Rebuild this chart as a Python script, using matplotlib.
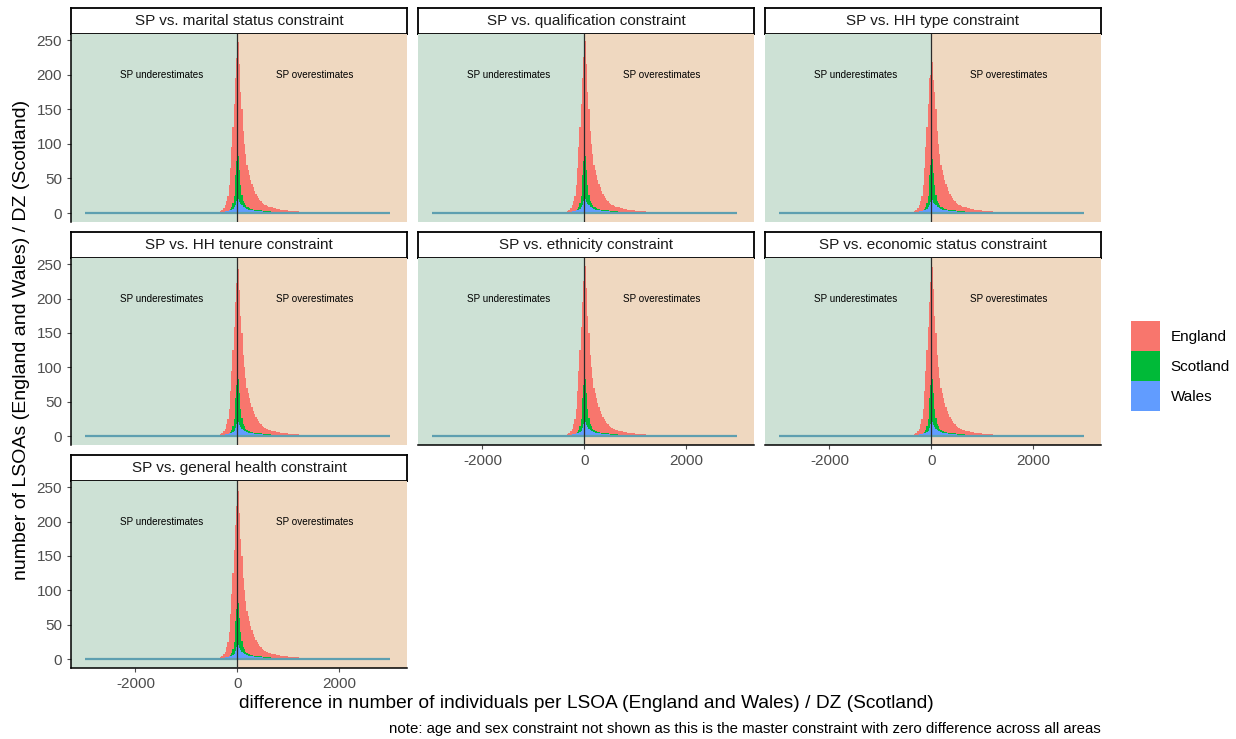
import numpy as np
import matplotlib
matplotlib.use("Agg")
import matplotlib.pyplot as plt
from matplotlib.patches import Patch

plt.rcParams['font.family'] = ['Liberation Sans', 'DejaVu Sans']
plt.rcParams['axes.unicode_minus'] = False

# facet titles, and the three central bins (-25..0, 0..25, 25..50) per panel
panels = ["SP vs. marital status constraint", "SP vs. qualification constraint",
          "SP vs. HH type constraint", "SP vs. HH tenure constraint",
          "SP vs. ethnicity constraint", "SP vs. economic status constraint",
          "SP vs. general health constraint"]
england_center = [[225, 247, 215], [226, 249, 216], [200, 218, 192],
                  [222, 243, 212], [226, 248, 216], [224, 246, 214],
                  [222, 244, 212]]
scotland_center = [[75, 83, 62], [75, 83, 62], [70, 78, 58], [75, 83, 62],
                   [75, 83, 62], [75, 83, 62], [73, 81, 60]]
wales_center = [[17, 20, 16], [17, 20, 16], [16, 19, 15], [17, 20, 16],
                [17, 20, 16], [17, 20, 16], [17, 20, 16]]

countries = ["England", "Scotland", "Wales"]
colors = {"England": "#F8766D", "Scotland": "#00BA38", "Wales": "#619CFF"}

# core bins (width 25) from -400 to 1000, outside the three central bins
core_edges = np.arange(-400, 1001, 25)
england_neg = [2, 2, 3, 4, 5, 7, 11, 17, 25, 40, 65, 95, 125, 158, 195]
england_pos = [175, 150, 118, 100, 85, 70, 62, 55, 48, 42, 37, 32, 28, 25,
               22, 19, 17, 15, 13, 12, 11, 10, 9, 9, 8, 8, 7, 7, 6, 6, 6, 5,
               5, 5, 5, 4, 4, 4]
scotland_neg = [0, 0, 1, 1, 1, 1, 2, 2, 3, 4, 6, 9, 14, 25, 55]
scotland_pos = [40, 26, 18, 14, 11, 9, 8, 7, 6, 6, 5, 5, 5, 4, 4, 4, 4, 3,
                3, 3, 3, 3, 3, 3, 2, 2, 2, 2, 2, 2, 2, 2, 2, 2, 2, 2, 2, 2]
wales_neg = [1, 2, 2, 2, 2, 2, 3, 3, 3, 4, 4, 5, 6, 8, 12]
wales_pos = [13, 11, 9, 8, 7, 6, 5, 5, 4, 4, 4, 3, 3, 3, 3, 3, 3, 3, 2, 2,
             2, 2, 2, 2, 2, 2, 2, 2, 2, 2, 2, 2, 2, 1, 1, 1, 1, 1]

# tails (width 100): -3000..-400 and 1000..3000
left_edges = np.arange(-3000, -399, 100)
right_edges = np.arange(1000, 3001, 100)
england_left = [0, 0, 0, 0, 0, 0, 0, 0, 0, 0, 0, 0, 0, 0, 0, 0, 0, 0, 0, 0,
                1, 1, 1, 1, 1, 2]
scotland_left = [0, 0, 0, 0, 0, 0, 0, 0, 0, 0, 0, 0, 0, 0, 0, 0, 0, 0, 0, 0,
                 0, 0, 0, 0, 0, 1]
wales_left = [0, 0, 0, 0, 0, 0, 0, 0, 0, 0, 0, 0, 0, 0, 0, 0, 0, 0, 0, 0,
              1, 1, 1, 1, 1, 1]
england_right = [3, 3, 2, 2, 2, 2, 2, 2, 1, 1, 1, 1, 1, 1, 1, 1, 1, 1, 1, 1]
scotland_right = [1, 1, 1, 1, 1, 1, 1, 1, 1, 1, 1, 1, 1, 1, 1, 1, 1, 1, 1, 1]
wales_right = [1, 1, 1, 1, 1, 1, 1, 1, 0, 0, 0, 0, 0, 0, 0, 0, 0, 0, 0, 0]

series = {
    "England": (england_left, england_neg, england_center, england_pos, england_right),
    "Scotland": (scotland_left, scotland_neg, scotland_center, scotland_pos, scotland_right),
    "Wales": (wales_left, wales_neg, wales_center, wales_pos, wales_right),
}

W, H = 1236, 739
fig = plt.figure(figsize=(W / 100, H / 100), dpi=100)


def px_axes(x0, y0, x1, y1):
    # axes from pixel box (top-left origin)
    return fig.add_axes([x0 / W, 1 - y1 / H, (x1 - x0) / W, (y1 - y0) / H])


col_x = [71, 418, 765]
row_y = [(8, 34, 222), (232, 258, 445), (455, 481, 668)]
xlim = (-3265, 3325)
ylim = (-13, 259)
tick_col = "#4d4d4d"
edges = np.concatenate([left_edges, core_edges[1:], right_edges[1:]])

for k, title in enumerate(panels):
    r, c = divmod(k, 3)
    x0 = col_x[c]
    s_top, p_top, p_bot = row_y[r]

    # strip
    sax = px_axes(x0, s_top, x0 + 336, p_top)
    sax.set_xticks([])
    sax.set_yticks([])
    for sp in sax.spines.values():
        sp.set_linewidth(1.3)
        sp.set_color("black")
    sax.text(0.5, 0.5, title, ha="center", va="center", fontsize=11,
             color="#1a1a1a", transform=sax.transAxes)

    ax = px_axes(x0, p_top, x0 + 336, p_bot)
    ax.set_xlim(*xlim)
    ax.set_ylim(*ylim)
    ax.axvspan(xlim[0], 0, color="#cde1d5", lw=0, zorder=0)
    ax.axvspan(0, xlim[1], color="#efd8c0", lw=0, zorder=0)

    for name in countries:
        lt, ng, ctr, ps, rt = series[name]
        vals = list(lt) + list(ng) + list(ctr[k]) + list(ps) + list(rt)
        ax.stairs(vals, edges, fill=True, color=colors[name], lw=0, zorder=2)

    ax.hlines(0, edges[0], edges[-1], color="#5e9fb0", lw=1.6, zorder=3)
    ax.axvline(0, color="#2b2b2b", lw=0.9, zorder=4)
    ax.text(-1490, 199, "SP underestimates", ha="center", va="center",
            fontsize=7.1, color="black", zorder=5)
    ax.text(1520, 199, "SP overestimates", ha="center", va="center",
            fontsize=7.1, color="black", zorder=5)

    for sp in ["top", "right"]:
        ax.spines[sp].set_visible(False)
    bottom_row = (r == 2) or (r == 1 and c > 0)
    ax.spines["left"].set_visible(c == 0)
    ax.spines["bottom"].set_visible(bottom_row)
    for sp in ["left", "bottom"]:
        ax.spines[sp].set_linewidth(1.1)
    ax.tick_params(colors=tick_col, labelcolor=tick_col, labelsize=11, length=3)
    if c == 0:
        ax.set_yticks([0, 50, 100, 150, 200, 250])
    else:
        ax.set_yticks([])
    if bottom_row:
        ax.set_xticks([-2000, 0, 2000])
    else:
        ax.set_xticks([])

fig.text(22 / W, 1 - 340 / H, "number of LSOAs (England and Wales) / DZ (Scotland)",
         rotation=90, ha="center", va="center", fontsize=14)
fig.text(586 / W, 1 - 703 / H,
         "difference in number of individuals per LSOA (England and Wales) / DZ (Scotland)",
         ha="center", va="center", fontsize=13.8)
fig.text(1101 / W, 1 - 729 / H,
         "note: age and sex constraint not shown as this is the master constraint with zero difference across all areas",
         ha="right", va="center", fontsize=10.8)

handles = [Patch(facecolor=colors[n], edgecolor="none", label=n) for n in countries]
fig.legend(handles=handles, loc="center left", bbox_to_anchor=(1131 / W, 1 - 366 / H),
           frameon=False, fontsize=11, handlelength=1.9, handleheight=2.64,
           labelspacing=0, handletextpad=0.7, borderpad=0, borderaxespad=0)

fig.savefig("out.png", dpi=100)
